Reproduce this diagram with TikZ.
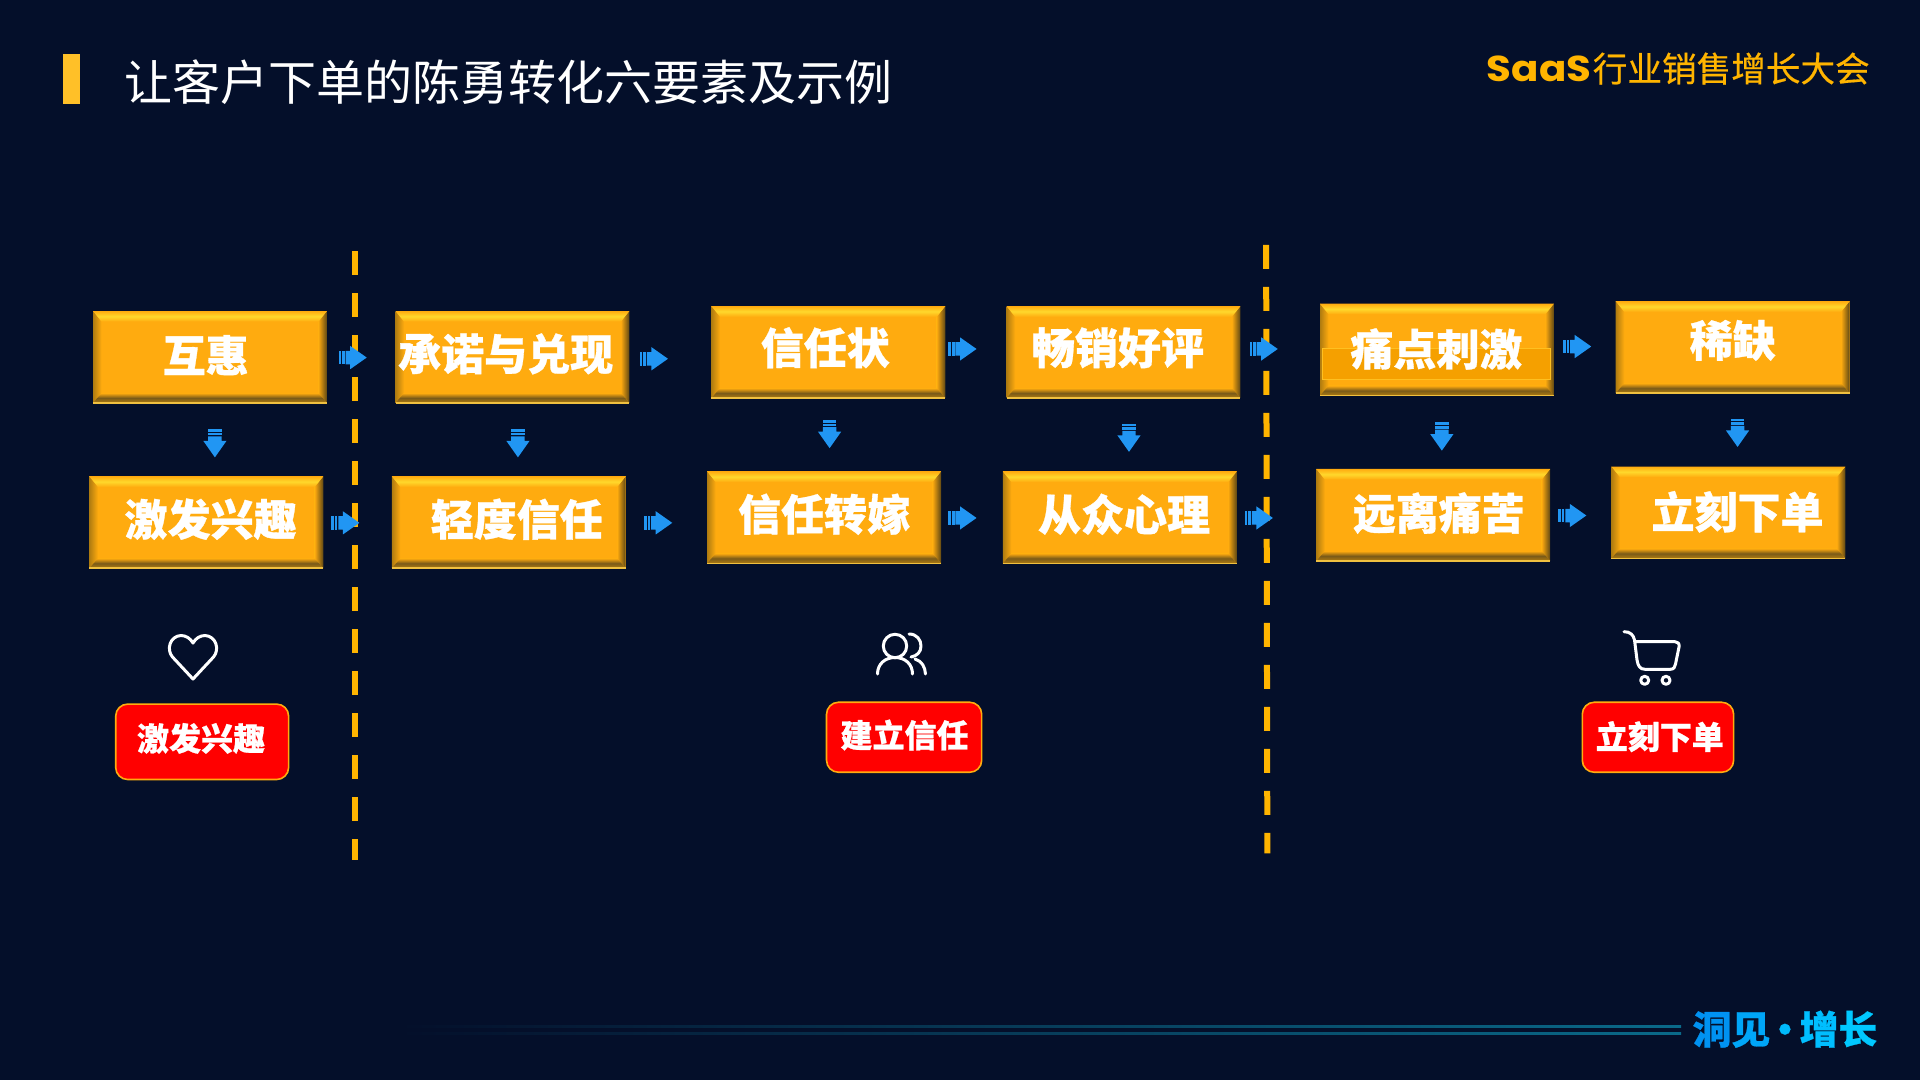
\documentclass[tikz,border=0pt]{standalone}
\usepackage{fontspec}
\setmainfont{Noto Sans CJK SC}[BoldFeatures={FakeBold=0.7}]
\newfontfamily\latinlogo{Poppins}
\newfontfamily\logocjk{Noto Sans CJK SC}[FakeBold=0.5]
\usetikzlibrary{calc}
\definecolor{bgc}{HTML}{040F2A}
\definecolor{face}{HTML}{FFAB0F}
\definecolor{dashc}{HTML}{FFB400}
\definecolor{barc}{HTML}{FFC028}
\definecolor{arrowc}{HTML}{2196F3}
\definecolor{linec}{HTML}{0A6A8A}
\definecolor{bevtop}{HTML}{FFD82C}
\definecolor{bevleft}{HTML}{B07C10}
\definecolor{bevright}{HTML}{5E4714}
\definecolor{bevbot}{HTML}{7A5A18}
\definecolor{bevedge}{HTML}{F0C040}
\definecolor{stripc}{HTML}{F5A000}
\definecolor{stripe}{HTML}{FFC020}
\tikzset{
  ybox/.style={fill=face,minimum width=191*0.612245pt,minimum height=75*0.612245pt,inner sep=0pt,outer sep=0pt},
  ylab/.style={text=white,inner sep=0pt,font=\fontsize{21.5}{26}\selectfont\bfseries},
  redbtn/.style={fill=red,draw=face,line width=0.8pt,rounded corners=6pt},
  redlab/.style={text=white,inner sep=0pt,font=\fontsize{16}{20}\selectfont\bfseries},
  divider/.style={draw=dashc,line width=3pt,dash pattern=on 12pt off 9pt},
  iconline/.style={draw=white,line width=1.5pt,line cap=round,line join=round},
  rarrow/.pic={
    \fill[arrowc] (0,-5.5) rectangle (2.2,5.5);
    \fill[arrowc] (3,-5.5) rectangle (5,5.5);
    \fill[arrowc] (5.8,-5.5) -- (9.5,-5.5) -- (9.5,-9.5) -- (23,0) -- (9.5,9.5) -- (9.5,5.5) -- (5.8,5.5) -- cycle;
  }
}
\newcommand{\ybevel}[3]{%
  \node[ybox] (#1) at (#2,#3) {};
  \shade[left color=bevleft,right color=face] (#1.north west) -- ($(#1.north west)+(7,8.7)$) -- ($(#1.south west)+(7,-8)$) -- (#1.south west) -- cycle;
  \shade[left color=face,right color=bevright] (#1.north east) -- ($(#1.north east)+(-7,8.7)$) -- ($(#1.south east)+(-7,-8)$) -- (#1.south east) -- cycle;
  \shade[top color=face,bottom color=face,middle color=bevtop] (#1.north west) -- (#1.north east) -- ($(#1.north east)+(-7,8.7)$) -- ($(#1.north west)+(7,8.7)$) -- cycle;
  \shade[top color=face,bottom color=bevleft,middle color=bevbot] ($(#1.south west)+(7,-8)$) -- ($(#1.south east)+(-7,-8)$) -- (#1.south east) -- (#1.south west) -- cycle;
  \draw[color=bevedge,line width=0.7pt] (#1.south west) -- (#1.south east);
}
\begin{document}
\begin{tikzpicture}[x=0.612245pt,y=-0.612245pt]
\fill[bgc] (0,0) rectangle (1568,882);
\useasboundingbox (0,0) rectangle (1568,882);

% title
\fill[barc] (51.5,44) rectangle (65.5,85);
\node[anchor=west,text=white,inner sep=0pt,font=\fontsize{24}{28}\selectfont] (title) at (101,67) {让客户下单的陈勇转化六要素及示例};

% top right logo
\node[anchor=west,text=dashc,inner sep=0pt,font=\fontsize{18}{22}\selectfont\latinlogo\bfseries] (saas) at (1214,56) {\scalebox{1.12}[1]{SaaS}};
\node[anchor=west,text=dashc,inner sep=0pt,font=\fontsize{17.3}{22}\selectfont\logocjk] (conf) at (1300.5,56) {行业销售增长大会};

% boxes
\ybevel{hh}{171.5}{291.5}
\ybevel{jf}{168.5}{426.5}
\ybevel{cn}{418.5}{291.5}
\ybevel{qd}{415.5}{426.5}
\ybevel{xr}{676.5}{287.5}
\ybevel{xz}{673}{422.5}
\ybevel{cx}{917.5}{287.5}
\ybevel{cz}{914.5}{422.5}
\ybevel{td}{1173.5}{285.5}
\ybevel{yl}{1170.5}{420.5}
\ybevel{xq}{1415}{283.5}
\ybevel{lk}{1411.5}{418.5}

% strip inside the pain-point box
\draw[fill=stripc,draw=stripe,line width=0.7pt] (1080,284.5) rectangle (1266,310);

% labels
\node[ylab] (hht) at (168,290) {互惠};
\node[ylab] (jft) at (172,424) {激发兴趣};
\node[ylab] (cnt) at (413,289) {承诺与兑现};
\node[ylab] (qdt) at (422,424) {轻度信任};
\node[ylab] (xrt) at (674,284) {信任状};
\node[ylab] (xzt) at (673,420) {信任转嫁};
\node[ylab] (cxt) at (913,284) {畅销好评};
\node[ylab] (czt) at (918,420) {从众心理};
\node[ylab] (tdt) at (1173,285) {痛点刺激};
\node[ylab] (ylt) at (1175,419) {远离痛苦};
\node[ylab] (xqt) at (1415,278) {稀缺};
\node[ylab] (lkt) at (1419,418) {立刻下单};

% dividers
\coordinate (d1a) at (290,205);
\coordinate (d1b) at (290,702);
\coordinate (d2a) at (1034,200);
\coordinate (d2b) at (1035,697);
\draw[divider] (d1a) -- (d1b);
\draw[divider] (d2a) -- (d2b);

% right arrows
\pic at ($(hh.east)+(9.5,0.5)$) {rarrow};
\pic at ($(jf.east)+(6.5,0.5)$) {rarrow};
\pic at ($(cn.east)+(8.5,1.5)$) {rarrow};
\pic at ($(qd.east)+(15,0.5)$) {rarrow};
\pic at ($(xr.east)+(2.5,-2.5)$) {rarrow};
\pic at ($(xz.east)+(6,0.5)$) {rarrow};
\pic at ($(cx.east)+(7.5,-2.5)$) {rarrow};
\pic at ($(cz.east)+(6.5,0.5)$) {rarrow};
\pic at ($(td.east)+(7.5,-2.5)$) {rarrow};
\pic at ($(yl.east)+(6.5,0.5)$) {rarrow};

% down arrows
\pic[rotate=-90] at ($(hh.south)+(4,21.5)$) {rarrow};
\pic[rotate=-90] at ($(cn.south)+(4.5,21.5)$) {rarrow};
\pic[rotate=-90] at ($(xr.south)+(1,18)$) {rarrow};
\pic[rotate=-90] at ($(cx.south)+(4.5,21)$) {rarrow};
\pic[rotate=-90] at ($(td.south)+(4,22)$) {rarrow};
\pic[rotate=-90] at ($(xq.south)+(4,21)$) {rarrow};

% red buttons
\draw[redbtn] (94.5,575) rectangle (235.7,636.6);
\node[redlab] (b1) at (164.2,603) {激发兴趣};
\draw[redbtn] (675,573.5) rectangle (801.7,630.7);
\node[redlab] (b2) at (738.7,600.3) {建立信任};
\draw[redbtn] (1292.2,573.5) rectangle (1415.8,630.7);
\node[redlab] (b3) at (1355.5,601.6) {立刻下单};

% icons and bottom lines, in pixels of the 1920 wide frame
\begin{scope}[x=0.5pt,y=-0.5pt]
  % heart
  \draw[iconline] (193,679) -- (172.5,657) .. controls (166,649.5) and (170,636) .. (181,635.5)
     .. controls (186,635.5) and (190.5,638.5) .. (193,643)
     .. controls (195.5,638.5) and (200,635.5) .. (205,635.5)
     .. controls (216,636) and (220,649.5) .. (213.5,657) -- cycle;
  % people
  \draw[iconline] (895,646) circle[radius=11.7];
  \draw[iconline] (877.5,674) .. controls (877.5,664) and (885,657.5) .. (895,657.5) .. controls (905,657.5) and (912.5,664) .. (912.5,674);
  \draw[iconline] (909,634) .. controls (917,634) and (921,640) .. (921,646) .. controls (921,652) and (917,656) .. (911,657);
  \draw[iconline] (915,659) .. controls (922,661) and (925,667) .. (925.5,674);
  % cart
  \draw[iconline] (1624,631.7) .. controls (1630,631.5) and (1633.5,635) .. (1634.5,640) -- (1637,660) .. controls (1638,666) and (1640,669.3) .. (1645,669.3) -- (1670,669.3) .. controls (1674,669.3) and (1675,667) .. (1675.5,664) -- (1679,647) .. controls (1679.5,643.5) and (1678,641.7) .. (1675,641.7) -- (1635,641.7);
  \draw[iconline] (1644.7,680.3) circle[radius=4];
  \draw[iconline] (1666,680.3) circle[radius=4];
  % bottom lines
  \shade[left color=bgc,right color=linec] (400,1025) rectangle (1681,1027);
  \shade[left color=bgc,right color=linec] (400,1032) rectangle (1681,1034);
\end{scope}

% bottom logo
\node[anchor=west,inner sep=0pt,font=\fontsize{19.4}{22}\selectfont\bfseries] (brand) at (1382,840.5) {\textcolor[HTML]{0092F2}{洞}\textcolor[HTML]{00A6F8}{见}\makebox[14.7pt][c]{\textcolor[HTML]{00BAFC}{·}}\textcolor[HTML]{00BEFF}{增}\textcolor[HTML]{00C8FF}{长}};
\end{tikzpicture}
\end{document}
